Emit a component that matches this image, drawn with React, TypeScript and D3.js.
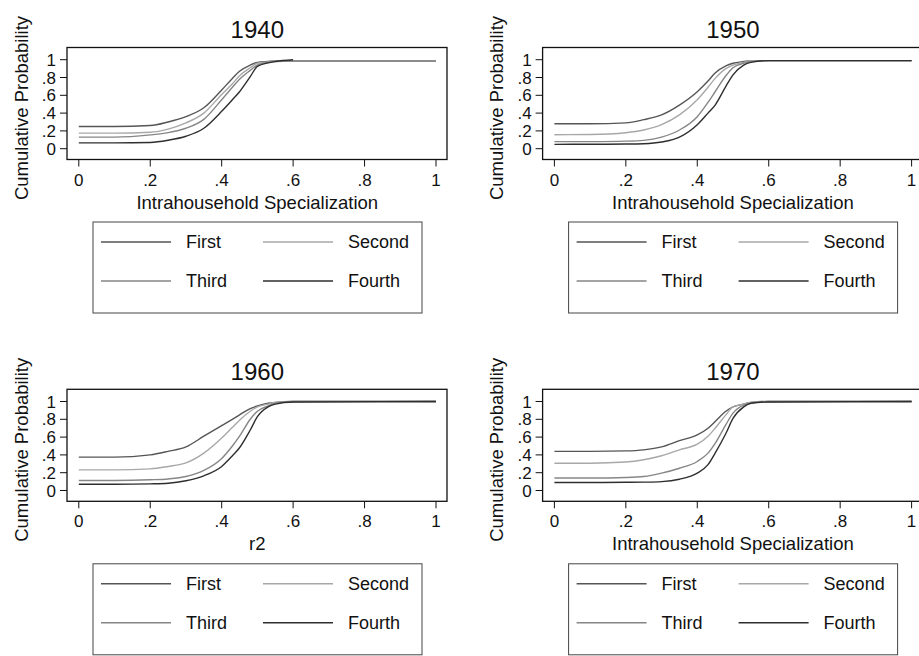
import React from 'react';
import * as d3 from 'd3';

// chart values
const years = ['1940', '1950', '1960', '1970'];
const xTitles = ['Intrahousehold Specialization', 'Intrahousehold Specialization', 'r2', 'Intrahousehold Specialization'];
const seriesNames = ['First', 'Second', 'Third', 'Fourth'];
const seriesColors = ['#555555', '#a8a8a8', '#868686', '#2e2e2e'];
const tickValues = [0, 0.2, 0.4, 0.6, 0.8, 1];
const xTickLabels = ['0', '.2', '.4', '.6', '.8', '1'];
const yTickLabels = ['0', '.2', '.4', '.6', '.8', '1'];

// specialization grid the cdf values were read at
const grid = [0, 0.1, 0.2, 0.25, 0.3, 0.35, 0.4, 0.43, 0.45, 0.48, 0.5, 0.53, 0.55, 0.6, 1];

const cdf1940 = [
    [.25, .25, .26, .30, .36, .46, .66, .79, .87, .94, .97, .98, .985, .985, .985],
    [.175, .175, .185, .22, .29, .40, .61, .73, .82, .91, .96, .975, .985, .985, .985],
    [.13, .13, .155, .18, .23, .33, .55, .69, .78, .88, .94, .97, .98, .985, .985],
    [.065, .065, .07, .095, .14, .23, .42, .55, .64, .81, .925, .965, .98, 1.0, null],
];
const cdf1950 = [
    [.28, .28, .29, .326, .38, .49, .64, .76, .85, .93, .96, .98, .99, .99, .99],
    [.157, .16, .18, .21, .27, .38, .55, .69, .79, .90, .94, .97, .99, .99, .99],
    [.079, .08, .085, .094, .13, .21, .36, .52, .64, .82, .91, .96, .98, .99, .99],
    [.049, .05, .052, .056, .075, .13, .27, .40, .49, .70, .83, .94, .97, .99, .99],
];
const cdf1960 = [
    [.375, .375, .40, .44, .49, .61, .73, .80, .85, .92, .95, .98, .99, 1, 1],
    [.232, .232, .243, .27, .31, .42, .59, .71, .79, .89, .94, .97, .99, 1, 1],
    [.112, .112, .12, .13, .157, .225, .36, .50, .61, .80, .89, .95, .98, 1, 1],
    [.07, .07, .075, .082, .11, .165, .27, .39, .48, .68, .83, .94, .97, .995, 1],
];
const cdf1970 = [
    [.44, .44, .445, .457, .49, .56, .625, .70, .775, .89, .94, .97, .99, 1, 1],
    [.307, .307, .32, .345, .39, .457, .52, .61, .70, .85, .94, .97, .99, 1, 1],
    [.14, .14, .146, .157, .195, .25, .326, .42, .53, .74, .87, .96, .98, 1, 1],
    [.09, .09, .092, .094, .10, .127, .195, .29, .42, .64, .81, .94, .98, .995, 1],
];
const panelData = [cdf1940, cdf1950, cdf1960, cdf1970];

const font = '"Liberation Sans", Arial, Helvetica, sans-serif';

function Panel({ idx }: { idx: number }) {
    const col = idx % 2, row = Math.floor(idx / 2);
    const dx = col * 475.6, dy = row * 341.8;

    // plot box and scales
    const box = { left: 67, right: 447, top: 47.5, bottom: 159.5 };
    const x = d3.scaleLinear().domain([0, 1]).range([78.8, 436]);
    const y = d3.scaleLinear().domain([0, 1]).range([148.7, 59.7]);

    const line = d3.line<number | null>()
        .defined(d => d !== null)
        .x((d, i) => x(grid[i]))
        .y(d => y(d as number))
        .curve(d3.curveMonotoneX);

    const legendRows = [[0, 1], [2, 3]];

    return (
        <g transform={`translate(${dx},${dy})`}>
            <text x={257.3} y={38} textAnchor="middle" fontSize={24} fill="#111">{years[idx]}</text>
            <rect x={box.left} y={box.top} width={box.right - box.left} height={box.bottom - box.top}
                fill="none" stroke="#111" strokeWidth={1.3} />
            {panelData[idx].map((s, i) => (
                <path key={i} d={line(s) || ''} fill="none" stroke={seriesColors[i]} strokeWidth={1.4} />
            ))}
            {/* x axis */}
            {tickValues.map((t, i) => (
                <g key={'x' + i}>
                    <line x1={x(t)} x2={x(t)} y1={box.bottom} y2={box.bottom + 7} stroke="#111" strokeWidth={1} />
                    <text x={x(t)} y={185.5} textAnchor="middle" fontSize={17} fill="#111">{xTickLabels[i]}</text>
                </g>
            ))}
            <text x={257.3} y={208.5} textAnchor="middle" fontSize={18.5} fill="#111">{xTitles[idx]}</text>
            {/* y axis */}
            {tickValues.map((t, i) => (
                <g key={'y' + i}>
                    <line x1={box.left - 7} x2={box.left} y1={y(t)} y2={y(t)} stroke="#111" strokeWidth={1} />
                    <text x={56} y={y(t)} dy="0.36em" textAnchor="end" fontSize={17} fill="#111">{yTickLabels[i]}</text>
                </g>
            ))}
            <text transform="translate(27.5,108) rotate(-90)" textAnchor="middle" fontSize={18.5} fill="#111">
                Cumulative Probability
            </text>
            {/* legend */}
            <rect x={93} y={222} width={329} height={91} fill="none" stroke="#444" strokeWidth={1} />
            {legendRows.map((r, ri) => r.map((si, ci) => {
                const ly = ri === 0 ? 242 : 281;
                const lx = ci === 0 ? 101 : 263;
                return (
                    <g key={si}>
                        <line x1={lx} x2={lx + 70} y1={ly} y2={ly} stroke={seriesColors[si]} strokeWidth={1.4} />
                        <text x={lx + 85} y={ly} dy="0.36em" fontSize={18} fill="#111">{seriesNames[si]}</text>
                    </g>
                );
            }))}
        </g>
    );
}

export default function App() {
    return (
        <svg width={919} height={656} style={{ position: 'absolute', left: 0, top: 0, background: '#fff' }}
            fontFamily={font}>
            <rect width={919} height={656} fill="#fff" />
            {years.map((yr, i) => <Panel key={yr} idx={i} />)}
        </svg>
    );
}
